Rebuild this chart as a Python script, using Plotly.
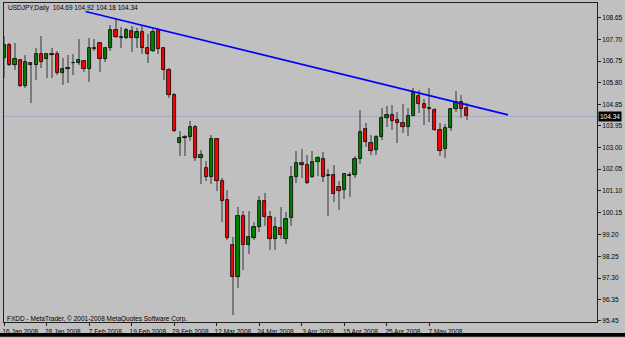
import plotly.graph_objects as go
import pandas as pd

# ---- data ----
dates = pd.bdate_range("2008-01-16", periods=88)

opens = [106.87, 107.43, 106.57, 106.78, 105.66, 106.65, 106.57, 107.08, 106.83, 107.04,
         107.04, 106.22, 106.39, 106.65, 106.65, 106.74, 106.39, 107.31, 107.52, 106.83,
         107.30, 108.12, 107.82, 107.77, 108.08, 107.77, 108.03, 107.30, 107.21, 108.12,
         107.30, 106.35, 105.27, 103.19, 103.42, 103.45, 103.88, 102.55, 102.08, 101.72,
         103.37, 101.53, 100.69, 98.73, 97.37, 100.02, 98.73, 99.06, 99.52, 100.64,
         99.98, 99.02, 99.48, 99.02, 99.91, 101.72, 102.30, 102.24, 101.72, 102.35,
         102.50, 101.76, 101.78, 101.25, 101.14, 101.81, 101.78, 102.47, 103.79, 103.19,
         102.86, 103.44, 104.27, 104.41, 104.17, 104.05, 103.90, 104.38, 105.25, 104.90,
         104.72, 104.62, 103.76, 102.94, 103.83, 104.65, 104.96, 104.69]
highs = [107.86, 107.53, 107.56, 106.80, 107.00, 106.70, 107.34, 107.86, 107.08, 107.34,
         107.21, 106.87, 107.00, 107.08, 107.73, 106.78, 107.77, 107.73, 107.52, 107.30,
         108.33, 108.59, 108.25, 108.21, 108.29, 108.21, 108.29, 107.95, 108.21, 108.21,
         107.34, 106.44, 105.36, 103.69, 103.55, 104.15, 103.98, 102.90, 102.42, 103.55,
         103.40, 101.68, 101.13, 99.09, 100.38, 100.24, 100.21, 99.74, 100.88, 101.00,
         100.22, 99.97, 100.40, 100.18, 102.18, 102.83, 102.93, 102.68, 102.83, 102.61,
         102.80, 102.04, 102.21, 101.52, 101.86, 101.92, 102.61, 104.62, 104.05, 103.55,
         103.55, 104.70, 104.81, 104.84, 104.54, 104.87, 104.70, 105.60, 105.49, 105.12,
         105.56, 104.70, 104.06, 104.01, 104.72, 105.44, 105.27, 104.92]
lows = [106.01, 106.52, 106.35, 105.62, 105.57, 104.93, 105.92, 106.44, 106.01, 106.01,
        106.13, 105.70, 105.79, 106.13, 106.57, 106.26, 105.83, 107.21, 106.26, 106.70,
        107.21, 107.77, 107.30, 107.73, 107.13, 107.34, 107.08, 106.65, 107.13, 107.08,
        105.92, 105.14, 103.68, 102.61, 102.61, 103.26, 102.42, 101.39, 101.53, 101.42,
        101.10, 99.74, 98.94, 95.71, 96.86, 97.65, 98.37, 98.94, 99.31, 99.59,
        98.51, 98.51, 99.02, 98.80, 99.59, 101.46, 101.68, 101.39, 101.68, 101.75,
        101.48, 99.99, 100.63, 100.28, 100.74, 100.82, 101.68, 102.25, 103.03, 102.68,
        102.68, 103.31, 103.89, 103.76, 103.19, 103.63, 103.50, 104.34, 104.48, 103.98,
        104.12, 103.69, 102.61, 102.54, 103.72, 104.55, 104.28, 104.18]
closes = [107.43, 106.57, 106.83, 105.66, 106.70, 106.57, 107.08, 106.70, 107.04, 107.02,
          106.22, 106.39, 106.44, 106.66, 106.78, 106.39, 107.34, 107.29, 106.83, 107.30,
          108.12, 107.82, 107.77, 108.12, 107.77, 108.03, 107.30, 107.08, 108.03, 107.26,
          106.35, 105.27, 103.72, 103.40, 103.43, 103.88, 102.51, 102.67, 101.72, 103.37,
          101.51, 100.64, 99.05, 97.37, 100.02, 98.73, 99.09, 99.52, 100.67, 99.95,
          99.02, 99.53, 99.20, 99.88, 101.72, 102.30, 102.22, 101.46, 102.35, 102.54,
          101.72, 101.75, 100.95, 101.10, 101.82, 101.75, 102.50, 103.66, 103.21, 102.83,
          103.44, 104.29, 104.41, 104.16, 104.04, 103.90, 104.37, 105.35, 104.88, 104.70,
          104.68, 103.76, 102.83, 103.83, 104.65, 104.97, 104.67, 104.34]

tick_dates = ["2008-01-16", "2008-01-28", "2008-02-07", "2008-02-19", "2008-02-29", "2008-03-12",
              "2008-03-24", "2008-04-03", "2008-04-15", "2008-04-25", "2008-05-07"]
tick_labels = ["16 Jan 2008", "28 Jan 2008", "7 Feb 2008", "19 Feb 2008", "29 Feb 2008",
               "12 Mar 2008", "24 Mar 2008", "3 Apr 2008", "15 Apr 2008", "25 Apr 2008", "7 May 2008"]

price_ticks = [108.65, 107.70, 106.75, 105.80, 104.85, 103.95, 103.00, 102.05, 101.10,
               100.15, 99.20, 98.25, 97.30, 96.35, 95.45]
price_labels = ["108.65", "107.70", "106.75", "105.80", "104.85", "103.95", "103.00", "102.05",
                "101.10", "100.15", "99.20", "98.25", "97.30", "96.35", "95.45"]

# trend line anchors (bar position, price)
trend_pos = [15.3, 94.8]
trend_price = [108.91, 104.41]

symbol = "USDJPY,Daily"
footer = "FXDD - MetaTrader, \u00a9 2001-2008 MetaQuotes Software Corp."

# ---- build ----
date_strs = [d.strftime("%Y-%m-%d") for d in dates]
xpos = list(range(len(dates)))
tick_pos = [date_strs.index(d) for d in tick_dates]

BG = "#C0C0C0"
FG = "#202020"
FONT = "Liberation Sans"

body_base = [min(o, c) for o, c in zip(opens, closes)]
body_h = [max(abs(c - o), 0.03) for o, c in zip(opens, closes)]
body_col = ["#008000" if c > o else "#FF0000" for o, c in zip(opens, closes)]

fig = go.Figure()
# wicks
fig.add_trace(go.Bar(x=xpos, y=[h - l for h, l in zip(highs, lows)], base=lows,
                     width=0.24, marker=dict(color="#7A7A7A", line=dict(width=0)),
                     hoverinfo="skip", showlegend=False))
# bodies
fig.add_trace(go.Bar(x=xpos, y=body_h, base=body_base, width=0.62,
                     marker=dict(color=body_col, line=dict(color="#000000", width=0.8)),
                     hoverinfo="skip", showlegend=False))
# trend line
fig.add_trace(go.Scatter(x=trend_pos, y=trend_price, mode="lines",
                         line=dict(color="#0000FF", width=1.6),
                         hoverinfo="skip", showlegend=False))

last = closes[-1]
fig.add_shape(type="line", xref="paper", x0=0, x1=1, y0=last, y1=last,
              line=dict(color="#A0A8C2", width=1), layer="below")
# black strip at very bottom of window
fig.add_shape(type="rect", xref="paper", yref="paper", x0=-0.01, x1=1.06,
              y0=-0.046, y1=-0.0342, fillcolor="#000000", line=dict(width=0))

fig.add_annotation(text=f"{last:.2f}", xref="paper", x=1, xanchor="left", xshift=1,
                   y=last, yref="y", yanchor="middle", showarrow=False,
                   bgcolor="#000000", borderpad=1,
                   font=dict(family=FONT, size=6.5, color="#FFFFFF"))
hdr = f"{symbol}  {opens[-1]:.2f} {highs[-1]:.2f} {lows[-1]:.2f} {closes[-1]:.2f}"
fig.add_annotation(text=hdr, xref="paper", yref="paper", x=0, y=1, xanchor="left",
                   yanchor="top", xshift=2, yshift=1, showarrow=False,
                   font=dict(family=FONT, size=6.5, color="#000000"))
fig.add_annotation(text=footer, xref="paper", yref="paper", x=0, y=0, xanchor="left",
                   yanchor="bottom", xshift=1, yshift=-3, showarrow=False,
                   font=dict(family=FONT, size=6.5, color="#000000"))

fig.update_layout(
    width=625, height=338,
    margin=dict(l=2, r=28, t=2, b=14, pad=0),
    paper_bgcolor=BG, plot_bgcolor=BG,
    barmode="overlay", bargap=0,
    showlegend=False,
    xaxis=dict(range=[-0.05, 111.52], tickmode="array", tickvals=tick_pos, ticktext=tick_labels,
               ticks="outside", ticklen=3, tickcolor=FG, showline=True, mirror=True,
               linecolor=FG, linewidth=1, showgrid=False, zeroline=False,
               ticklabelshift=16, ticklabelstandoff=0,
               tickfont=dict(family=FONT, size=6.5, color="#000000")),
    yaxis=dict(range=[95.39, 109.28], side="right", tickmode="array", tickvals=price_ticks,
               ticktext=price_labels, ticks="outside", ticklen=3, tickcolor=FG,
               showline=True, mirror=True, linecolor=FG, linewidth=1, showgrid=False,
               zeroline=False, ticklabelstandoff=0,
               tickfont=dict(family=FONT, size=6.5, color="#000000")),
)

fig.write_html("out.html")
